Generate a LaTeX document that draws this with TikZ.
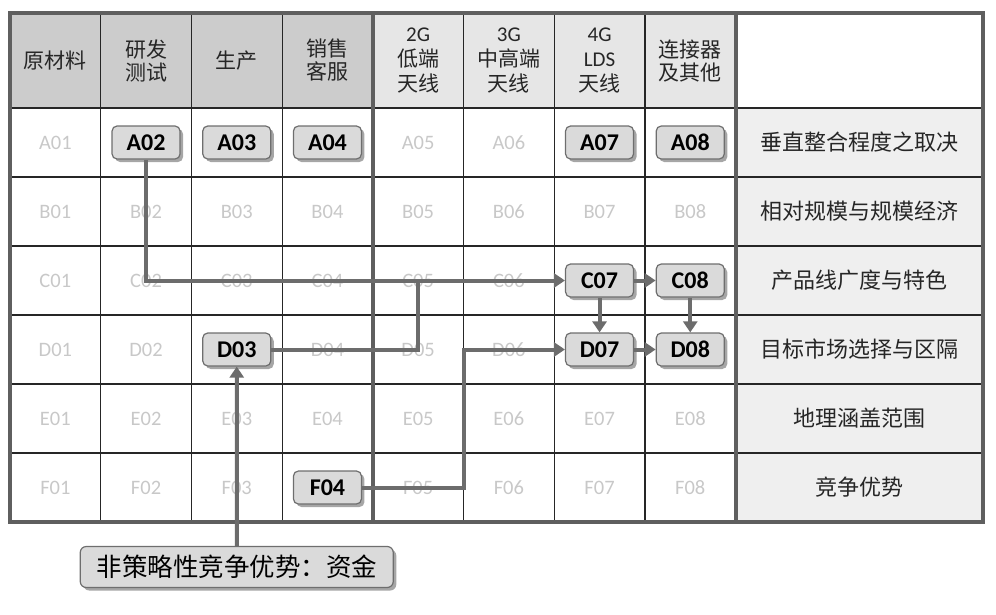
\documentclass[tikz,border=0pt]{standalone}
\usepackage{fontspec}
\setmainfont{Carlito}
\newfontfamily\cjk{Noto Sans CJK SC}
\usetikzlibrary{calc,arrows.meta,shadows}
\definecolor{linegray}{RGB}{108,108,108}
\definecolor{framegray}{RGB}{95,95,95}
\definecolor{faintgray}{RGB}{200,200,200}
\definecolor{headdark}{RGB}{204,204,204}
\definecolor{headlight}{RGB}{230,230,230}
\definecolor{sidefill}{RGB}{239,239,239}
\definecolor{boxfill}{RGB}{218,218,218}
\definecolor{boxedge}{RGB}{110,110,110}
\tikzstyle{cellline}=[line width=1.2pt, draw=black!85]
\tikzstyle{framing}=[line width=4pt, draw=framegray]
\tikzstyle{line}=[line width=4pt, draw=linegray]
\tikzstyle{arrow}=[line,-{Triangle[width=14pt,length=11pt]}]
\tikzstyle{faint}=[text=faintgray, font=\fontsize{20.5}{20.5}\selectfont]
\tikzstyle{headcell}=[align=center, text=black!85]
\tikzstyle{rowlabel}=[text=black!85, font=\cjk\fontsize{22}{22}\selectfont]
\tikzstyle{box}=[draw=boxedge, line width=1.2pt, fill=boxfill, rounded corners=5pt,
  minimum width=68pt, minimum height=33pt, inner sep=0pt,
  font=\fontsize{24}{24}\selectfont\bfseries,
  drop shadow={shadow xshift=3pt, shadow yshift=-3pt, fill=black, opacity=0.35}]

\begin{document}
\begin{tikzpicture}[x=1pt,y=-1pt]
    \useasboundingbox (0,0) rectangle (996,614);
    \fill[headdark] (10,13) rectangle (372.8,108);
    \fill[headlight] (372.8,13) rectangle (735.6,108);
    \fill[sidefill] (735.6,108) rectangle (983,522);
    \foreach \n in {1,...,6} {
      \draw[cellline] (10,{39+69*\n}) -- (983,{39+69*\n});
    }
    \foreach \c in {1,...,8} {
      \draw[cellline] ({10+90.7*\c},13) -- ({10+90.7*\c},522);
    }
    \draw[framing] (372.8,13) -- (372.8,522);
    \draw[framing] (735.6,13) -- (735.6,522);
    \draw[framing] (10,13) rectangle (983,522);
    \foreach \c/\t/\s in {1/{\cjk 原材料}/23, 2/{{\cjk 研发}\\{\cjk 测试}}/23,
        3/{\cjk 生产}/23, 4/{{\cjk 销售}\\{\cjk 客服}}/23,
        5/{2G\\{\cjk 低端}\\{\cjk 天线}}/25, 6/{3G\\{\cjk 中高端}\\{\cjk 天线}}/25,
        7/{4G\\LDS\\{\cjk 天线}}/25, 8/{{\cjk 连接器}\\{\cjk 及其他}}/23} {
      \node[headcell, font=\fontsize{21}{\s}\selectfont] (H\c) at ({10+90.7*(\c-0.5)},60.5) {\t};
    }
    \foreach \n/\t in {1/垂直整合程度之取决, 2/相对规模与规模经济, 3/产品线广度与特色,
        4/目标市场选择与区隔, 5/地理涵盖范围, 6/竞争优势} {
      \node[rowlabel] (S\n) at (859.3,{108+69*(\n-0.5)}) {\t};
    }
    \foreach \r/\n/\cols in {A/1/{1,5,6}, B/2/{1,...,8}, C/3/{1,...,6},
        D/4/{1,2,4,5,6}, E/5/{1,...,8}, F/6/{1,2,3,5,6,7,8}} {
      \foreach \c in \cols {
        \node[faint] (\r0\c) at ({10+90.7*(\c-0.5)},{108+69*(\n-0.5)}) {\r0\c};
      }
    }
    \foreach \r/\n/\c in {A/1/2, A/1/3, A/1/4, A/1/7, A/1/8, C/3/7, C/3/8,
        D/4/3, D/4/7, D/4/8, F/6/4} {
      \node[box] (\r0\c) at ({10+90.7*(\c-0.5)},{108+69*(\n-0.5)}) {\r0\c};
    }
    \node[box, font=\cjk\fontsize{25.5}{25.5}\selectfont, minimum width=313pt,
      minimum height=41pt, rounded corners=6pt] (Fund) at (236.75,567) {非策略性竞争优势：资金};
    \draw[arrow] (A02.south) |- (C07.west);
    \draw[line] (D03.east) -| (C05.center);
    \draw[arrow] (F04.east) -| ($(D05)!0.5!(D06)$) -- (D07.west);
    \draw[arrow] (C07) -- (C08);
    \draw[arrow] (D07) -- (D08);
    \draw[arrow] (C07) -- (D07);
    \draw[arrow] (C08) -- (D08);
    \draw[arrow] (Fund) -- (D03);
  \end{tikzpicture}
\end{document}
